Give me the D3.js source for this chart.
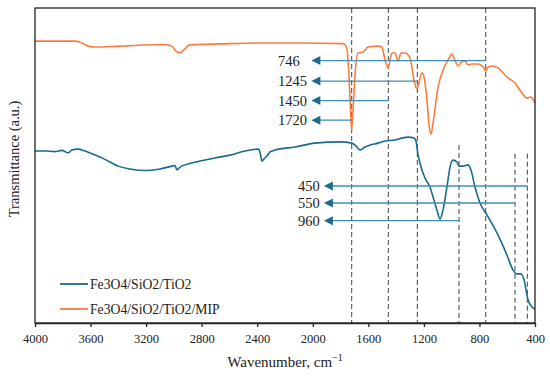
<!DOCTYPE html>
<html><head><meta charset="utf-8">
<script src="https://cdn.jsdelivr.net/npm/d3@7"></script>
<style>body{margin:0;background:#fff}svg{display:block}text{font-family:"Liberation Serif","Times New Roman",serif;fill:#222}</style>
</head><body><svg id="c" width="550" height="376"></svg>
<script>
// ---- data ----
const seriesNames = ["Fe3O4/SiO2/TiO2", "Fe3O4/SiO2/TiO2/MIP"];
const seriesColors = ["#1a6a90", "#fb7d3e"];
const xTicks = [4000, 3600, 3200, 2800, 2400, 2000, 1600, 1200, 800, 400];

const mipWave = [4000,3856,3712,3662,3618,3568,3388,3064,3014,2985,2956,2928,2884,2668,2380,2092,1782,1760,1746,1731,1721,1710,1696,1674,1638,1602,1530,1502,1480,1458,1430,1408,1386,1365,1336,1300,1271,1250,1235,1214,1199,1178,1163,1149,1134,1098,1062,1026,998,983,954,926,904,882,854,810,774,753,738,702,666,594,544,494,458,429,400];
const mipT = [89.5,89.5,89.5,88.9,87.9,87.6,87.9,88.4,87.9,86.3,85.7,86.7,88.3,88.6,88.9,88.9,88.7,87.9,83.5,70.8,61.3,67.6,78.7,85.7,86.0,87.6,87.9,87.6,83.5,81.0,85.7,85.7,83.2,85.7,85.7,84.1,77.1,74.3,76.5,79.4,78.1,70.8,62.9,60.0,63.5,74.9,80.3,83.5,85.4,84.1,81.6,82.9,83.2,81.9,82.2,82.2,81.3,80.0,81.3,81.6,81.0,77.8,76.2,73.0,71.4,71.7,69.8];

const baseWave = [4000,3928,3856,3806,3762,3734,3690,3640,3604,3532,3460,3402,3316,3208,3100,3014,2992,2978,2956,2920,2812,2704,2596,2488,2394,2380,2366,2351,2330,2308,2272,2128,1984,1804,1718,1689,1660,1624,1588,1530,1480,1408,1358,1314,1271,1257,1242,1228,1214,1185,1156,1134,1106,1084,1062,1034,1012,990,962,947,918,882,861,832,796,746,674,602,558,530,501,479,450,422,400];
const baseT = [54.6,54.6,54.4,54.8,54.0,54.9,55.2,54.6,54.0,52.7,51.1,49.8,48.9,48.4,48.9,49.8,50.0,48.6,49.5,50.2,51.4,52.4,53.3,54.6,55.2,54.3,51.4,52.1,53.0,54.3,54.9,55.9,57.1,57.5,57.1,56.2,54.9,55.9,56.5,57.1,57.8,58.1,58.7,59.0,58.7,57.8,53.3,50.8,48.6,45.4,43.2,40.0,35.9,33.0,35.9,43.2,49.5,51.7,51.1,49.8,49.8,50.2,48.6,43.2,38.1,34.3,28.6,21.6,16.8,15.6,15.6,13.7,7.3,5.1,4.4];

const peakLabels = ["746", "1245", "1450", "1720", "450", "550", "960"];
const peakPos    = [755, 1247, 1456, 1720, 455, 544, 947];
const arrowLevel = [83.3, 76.8, 70.6, 64.4, 43.5, 38.1, 32.5];
const guideTop   = [100, 100, 100, 100, 53.7, 53.7, 56.5];
const arrowTip   = [2010, 2010, 2010, 2010, 1920, 1920, 1920];
const labelStart = [2250, 2250, 2250, 2250, 2106, 2106, 2106];

// ---- chart ----
const svg = d3.select("#c");
const L = 35, R = 535, T = 8, B = 323;
const x = d3.scaleLinear().domain([4000, 400]).range([L, R]);
const y = d3.scaleLinear().domain([0, 100]).range([B, T]);

// guides
const g = svg.append("g");
peakPos.forEach((p, i) => {
  g.append("line").attr("x1", x(p)).attr("x2", x(p))
    .attr("y1", y(guideTop[i])).attr("y2", B)
    .attr("stroke", "#555").attr("stroke-width", 1.1).attr("stroke-dasharray", "5,3");
});

// spectra
const line = d3.line().x(d => x(d[0])).y(d => y(d[1])).curve(d3.curveMonotoneX);
const mip = mipWave.map((w, i) => [w, mipT[i]]);
const base = baseWave.map((w, i) => [w, baseT[i]]);
svg.append("path").datum(mip).attr("d", line).attr("fill", "none")
  .attr("stroke", seriesColors[1]).attr("stroke-width", 1.6);
svg.append("path").datum(base).attr("d", line).attr("fill", "none")
  .attr("stroke", seriesColors[0]).attr("stroke-width", 1.6);

// arrows
peakPos.forEach((p, i) => {
  const yy = y(arrowLevel[i]);
  const tip = x(arrowTip[i]);
  svg.append("line").attr("x1", x(p)).attr("x2", tip + 6).attr("y1", yy).attr("y2", yy)
    .attr("stroke", "#3f8fb2").attr("stroke-width", 1.3);
  svg.append("path").attr("d", `M${tip},${yy}L${tip + 9},${yy - 4.5}L${tip + 9},${yy + 4.5}Z`)
    .attr("fill", "#1d6b8f");
  svg.append("text").attr("x", x(labelStart[i])).attr("y", yy + 5)
    .attr("font-size", 14.5).text(peakLabels[i]);
});

// frame
svg.append("rect").attr("x", L).attr("y", T).attr("width", R - L).attr("height", B - T)
  .attr("fill", "none").attr("stroke", "#222").attr("stroke-width", 1.3);

// x axis
const ax = svg.append("g").attr("transform", `translate(0,${B})`)
  .call(d3.axisBottom(x).tickValues(xTicks).tickSize(4).tickSizeOuter(0).tickFormat(d3.format("d")));
ax.select(".domain").attr("stroke", "#222").attr("stroke-width", 1.6);
ax.selectAll(".tick line").attr("stroke", "#222").attr("stroke-width", 1.3);
ax.selectAll(".tick text").attr("font-size", 12.5).attr("font-family", "Liberation Serif").attr("fill", "#222").attr("dy", "1.05em");

// axis titles
const xt = svg.append("text").attr("x", (L + R) / 2).attr("y", 367).attr("text-anchor", "middle").attr("font-size", 15);
xt.append("tspan").text("Wavenumber, cm");
xt.append("tspan").attr("dy", -6).attr("font-size", 10).text("\u22121");
svg.append("text").attr("transform", "translate(19,159) rotate(-90)").attr("text-anchor", "middle")
  .attr("font-size", 14.5).text("Transmittance (a.u.)");

// legend
seriesNames.forEach((n, i) => {
  const ly = 284 + i * 25;
  svg.append("line").attr("x1", 60).attr("x2", 88).attr("y1", ly).attr("y2", ly)
    .attr("stroke", seriesColors[i]).attr("stroke-width", 1.8);
  svg.append("text").attr("x", 90).attr("y", ly + 4.5).attr("font-size", 13.7).text(n);
});
</script></body></html>
